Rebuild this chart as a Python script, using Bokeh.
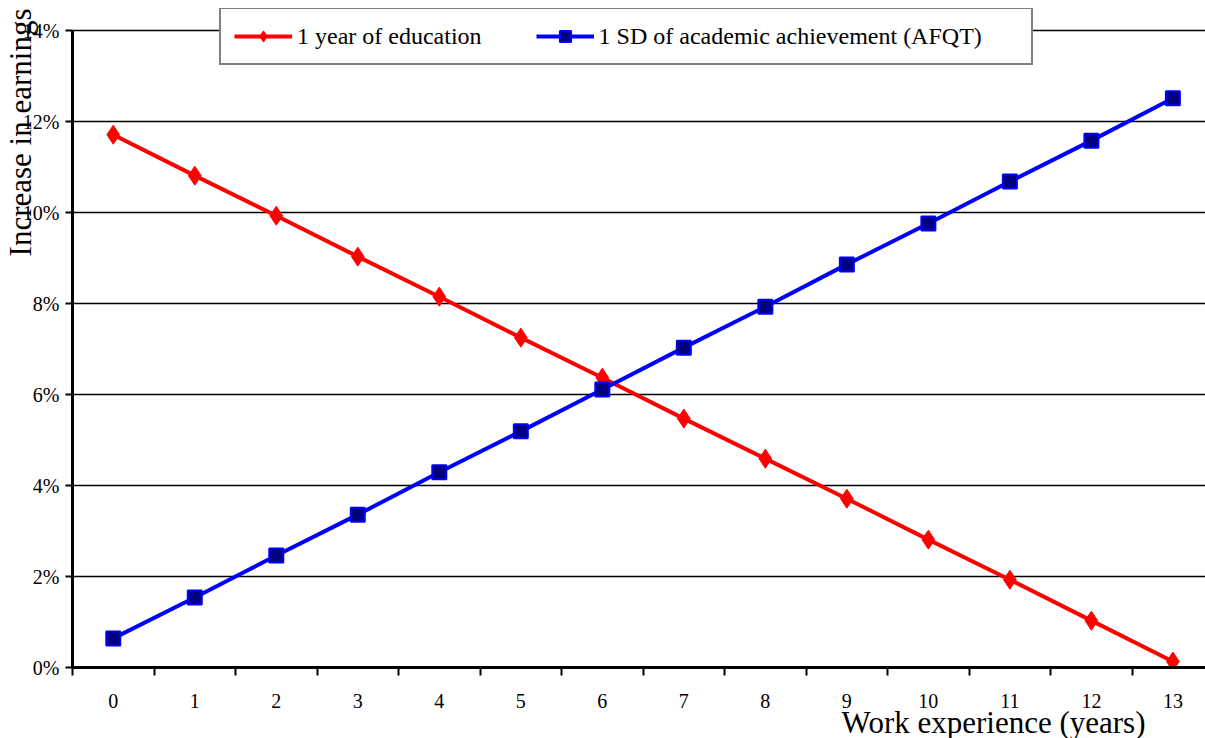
import numpy as np
from bokeh.plotting import figure
from bokeh.models import (Range1d, FixedTicker, NumeralTickFormatter,
                          Legend, LegendItem, Title)
from bokeh.embed import file_html
from bokeh.resources import INLINE

years = list(range(14))
education = [11.71, 10.81, 9.93, 9.03, 8.15, 7.25, 6.37, 5.47, 4.59, 3.71, 2.81, 1.93, 1.03, 0.13]
afqt = [0.64, 1.54, 2.46, 3.36, 4.29, 5.19, 6.11, 7.03, 7.93, 8.86, 9.76, 10.68, 11.58, 12.51]
y_ticks = [0, 2, 4, 6, 8, 10, 12, 14]
series_names = ["1 year of education", "1 SD of academic achievement (AFQT)"]
x_title = "Work experience (years)"
y_title = "Increase in earnings"

edu = [v / 100 for v in education]
afq = [v / 100 for v in afqt]

FONT = "Liberation Serif"

# frame top is raised so the legend box can sit above the 14% line
p = figure(width=1205, height=738, output_backend="svg", toolbar_location=None,
           x_range=Range1d(-0.5, 13.4), y_range=Range1d(0, 0.14484),
           min_border_left=72, min_border_right=0, min_border_top=8,
           min_border_bottom=71)
p.outline_line_color = None
p.background_fill_color = "white"
p.border_fill_color = "white"

# x axis
p.xaxis.ticker = FixedTicker(ticks=years, minor_ticks=[i - 0.5 for i in range(15)])
p.xaxis.major_tick_out = 0
p.xaxis.major_tick_in = 0
p.xaxis.minor_tick_out = 8
p.xaxis.minor_tick_in = 0
p.xaxis.minor_tick_line_color = "black"
p.xaxis.minor_tick_line_width = 2
p.xaxis.axis_line_width = 3
p.xaxis.axis_line_color = "black"
p.xaxis.major_label_standoff = 18
p.xaxis.major_label_text_font = FONT
p.xaxis.major_label_text_font_size = "20px"
p.xaxis.major_label_text_color = "black"

# y axis
p.yaxis.ticker = FixedTicker(ticks=[v / 100 for v in y_ticks], minor_ticks=[])
p.yaxis.bounds = (0, 0.14)
p.yaxis.formatter = NumeralTickFormatter(format="0%")
p.yaxis.major_tick_out = 7
p.yaxis.major_tick_in = 0
p.yaxis.major_tick_line_width = 2
p.yaxis.axis_line_width = 3
p.yaxis.axis_line_color = "black"
p.yaxis.major_label_standoff = 6
p.yaxis.major_label_text_font = FONT
p.yaxis.major_label_text_font_size = "20px"
p.yaxis.major_label_text_color = "black"

p.xgrid.grid_line_color = None
p.ygrid.grid_line_color = "black"
p.ygrid.grid_line_width = 1.5

# axis titles, placed like the original (lower right / upper left)
p.add_layout(Title(text=x_title, align="right", offset=60, standoff=-12,
                   vertical_align="top", text_font=FONT, text_font_size="31px",
                   text_font_style="normal", text_color="black"), "below")
p.add_layout(Title(text=y_title, align="right", offset=0, standoff=-36,
                   vertical_align="bottom", text_font=FONT, text_font_size="31px",
                   text_font_style="normal", text_color="black"), "left")

# series
r1 = p.line(years, edu, line_color="#ff0000", line_width=4)
m1 = p.scatter(years, edu, marker="diamond", size=19, fill_color="#ff0000",
               line_color="#ff0000")
r2 = p.line(years, afq, line_color="#0000ff", line_width=4)
m2 = p.scatter(years, afq, marker="square", size=14, fill_color="#000080",
               line_color="#0000ff", line_width=2)

legend = Legend(items=[LegendItem(label=series_names[0], renderers=[r1, m1]),
                       LegendItem(label=series_names[1] + "\u00a0" * 6, renderers=[r2, m2])],
                orientation="horizontal", location=(147, 602),
                border_line_color="black", border_line_width=2,
                background_fill_color="white", background_fill_alpha=1,
                label_text_font=FONT, label_text_font_size="24px",
                label_text_color="black", glyph_width=58, glyph_height=28,
                padding=13, spacing=54, label_standoff=5, margin=0)
p.add_layout(legend, "center")

open("out.html", "w").write(file_html(p, INLINE))
